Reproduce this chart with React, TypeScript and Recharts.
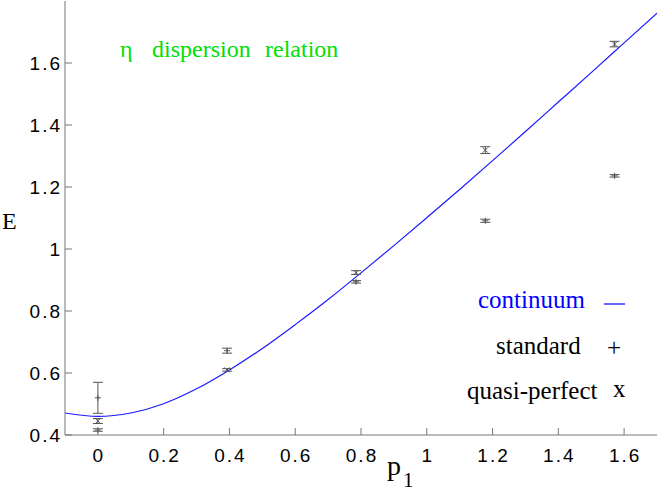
import React from 'react';
import { ComposedChart, XAxis, YAxis, Line, Scatter, ErrorBar } from 'recharts';

// continuum curve
const curveP = [-0.1, 0, 0.1, 0.2, 0.3, 0.4, 0.5, 0.6, 0.7, 0.8, 0.9, 1.0, 1.1, 1.2, 1.3, 1.4, 1.5, 1.6, 1.7];
const curveE = [0.471, 0.46, 0.471, 0.501, 0.549, 0.61, 0.679, 0.756, 0.837, 0.923, 1.011, 1.101, 1.192, 1.285, 1.379, 1.474, 1.569, 1.665, 1.761];

// standard action points
const standardP = [0, 0, 0.393, 0.785, 1.178, 1.571];
const standardE = [0.52, 0.416, 0.672, 0.894, 1.091, 1.236];
const standardErr = [0.05, 0.004, 0.008, 0.004, 0.005, 0.004];

// quasi-perfect action points
const quasiP = [0, 0.393, 0.785, 1.178, 1.571];
const quasiE = [0.445, 0.61, 0.924, 1.319, 1.661];
const quasiErr = [0.008, 0.004, 0.006, 0.011, 0.009];

const xTicks = [0, 0.2, 0.4, 0.6, 0.8, 1, 1.2, 1.4, 1.6];
const yTicks = [0.4, 0.6, 0.8, 1, 1.2, 1.4, 1.6];

const curveData = curveP.map((p, i) => ({ x: p, y: curveE[i] }));
const standardData = standardP.map((p, i) => ({ x: p, y: standardE[i], e: standardErr[i] }));
const quasiData = quasiP.map((p, i) => ({ x: p, y: quasiE[i], e: quasiErr[i] }));

const axisColor = '#777777';
const markColor = '#555555';
const tickStyle: React.CSSProperties = { fontFamily: "'Liberation Sans'", fontSize: 19, letterSpacing: 2 };
const serifStyle = (size: number): React.CSSProperties => ({ fontFamily: "'Liberation Serif'", fontSize: size });

const fmt = (v: number) => String(Math.round(v * 10) / 10);

const BottomTick = (props: any) => {
  const { x, y, payload } = props;
  return (
    <g>
      <line x1={x} y1={y} x2={x} y2={y - 7} stroke={axisColor} />
      <text x={x + 1} y={y + 27} textAnchor="middle" fill="#000" style={tickStyle}>{fmt(payload.value)}</text>
    </g>
  );
};
const LeftTick = (props: any) => {
  const { x, y, payload } = props;
  return (
    <g>
      <line x1={x} y1={y} x2={x + 7} y2={y} stroke={axisColor} />
      <text x={x - 3} y={y + 7} textAnchor="end" fill="#000" style={tickStyle}>{fmt(payload.value)}</text>
    </g>
  );
};
const TopTick = (props: any) => {
  const { x, y } = props;
  return <line x1={x} y1={y} x2={x} y2={y + 6} stroke={axisColor} />;
};
const RightTick = (props: any) => {
  const { x, y } = props;
  return <line x1={x} y1={y} x2={x - 6} y2={y} stroke={axisColor} />;
};

const PlusShape = (props: any) => {
  const { cx, cy } = props;
  return (
    <g stroke={markColor} strokeWidth={1}>
      <line x1={cx - 3} y1={cy} x2={cx + 3} y2={cy} />
      <line x1={cx} y1={cy - 3} x2={cx} y2={cy + 3} />
    </g>
  );
};
const CrossShape = (props: any) => {
  const { cx, cy } = props;
  return (
    <g stroke={markColor} strokeWidth={1}>
      <line x1={cx - 2.5} y1={cy - 2.5} x2={cx + 2.5} y2={cy + 2.5} />
      <line x1={cx - 2.5} y1={cy + 2.5} x2={cx + 2.5} y2={cy - 2.5} />
    </g>
  );
};

export default function App() {
  return (
    <div style={{ position: 'absolute', left: 0, top: 0, width: 660, height: 491, background: '#fff' }}>
      <ComposedChart width={660} height={491} margin={{ top: 1, right: 3, bottom: 0, left: 0 }}>
        <XAxis xAxisId={0} dataKey="x" type="number" domain={[-0.1, 1.7]} ticks={xTicks} interval={0}
          allowDataOverflow height={56} tickSize={0} tickMargin={0} tickLine={false}
          axisLine={{ stroke: axisColor }} tick={<BottomTick />} />
        <XAxis xAxisId="top" orientation="top" dataKey="x" type="number" domain={[-0.1, 1.7]} ticks={xTicks} interval={0}
          allowDataOverflow height={0} tickSize={0} tickMargin={0} tickLine={false}
          axisLine={{ stroke: axisColor }} tick={<TopTick />} />
        <YAxis yAxisId={0} dataKey="y" type="number" domain={[0.4, 1.8]} ticks={yTicks} interval={0}
          allowDataOverflow width={65} tickSize={0} tickMargin={0} tickLine={false}
          axisLine={{ stroke: axisColor }} tick={<LeftTick />} />
        <YAxis yAxisId="right" orientation="right" dataKey="y" type="number" domain={[0.4, 1.8]} ticks={yTicks} interval={0}
          allowDataOverflow width={0} tickSize={0} tickMargin={0} tickLine={false}
          axisLine={{ stroke: axisColor }} tick={<RightTick />} />
        <Line data={curveData} dataKey="y" type="monotone" dot={false} stroke="#1a1aff" strokeWidth={1.2}
          isAnimationActive={false} xAxisId={0} yAxisId={0} />
        <Scatter data={standardData} dataKey="y" shape={<PlusShape />} isAnimationActive={false} xAxisId={0} yAxisId={0}>
          <ErrorBar dataKey="e" direction="y" width={5} stroke={markColor} strokeWidth={1} />
        </Scatter>
        <Scatter data={quasiData} dataKey="y" shape={<CrossShape />} isAnimationActive={false} xAxisId={0} yAxisId={0}>
          <ErrorBar dataKey="e" direction="y" width={5} stroke={markColor} strokeWidth={1} />
        </Scatter>
      </ComposedChart>
      <svg width={660} height={491} style={{ position: 'absolute', left: 0, top: 0, pointerEvents: 'none' }}>
        <text y={57} fill="#00e000" style={serifStyle(24)}>
          <tspan x={120}>η</tspan>
          <tspan x={152}>dispersion</tspan>
          <tspan x={265}>relation</tspan>
        </text>
        <text x={2} y={229} fill="#000" style={serifStyle(24)}>E</text>
        <text x={387} y={475} fill="#000" style={serifStyle(28)}>p</text>
        <text x={403} y={487} fill="#000" style={serifStyle(21)}>1</text>
        <text x={478} y={308} fill="#0000ff" style={serifStyle(25)}>continuum</text>
        <line x1={604} y1={304} x2={625} y2={304} stroke="#0000ff" strokeWidth={1.2} />
        <text x={496} y={354} fill="#000" style={serifStyle(25)}>standard</text>
        <text x={607} y={356} fill="#000" style={serifStyle(25)}>+</text>
        <text x={467} y={399} fill="#000" style={serifStyle(25)}>quasi-perfect</text>
        <text x={613} y={397} fill="#000" style={serifStyle(25)}>x</text>
      </svg>
    </div>
  );
}
